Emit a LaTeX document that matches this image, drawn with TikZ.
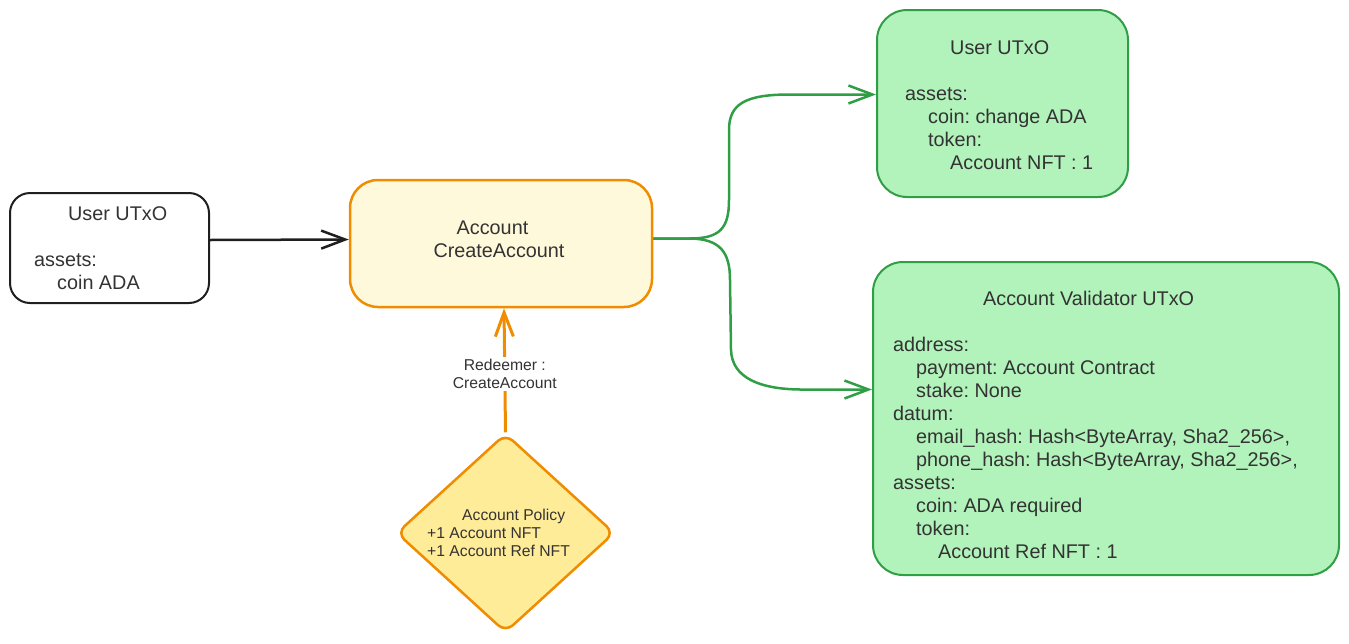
\documentclass[tikz,border=0pt]{standalone}
\usepackage{fontspec}
\setmainfont{Liberation Sans}
\usetikzlibrary{arrows.meta,shapes.geometric}
\definecolor{txt}{HTML}{333333}
\definecolor{orng}{HTML}{F08C00}
\definecolor{yel}{HTML}{FFF9DB}
\definecolor{dia}{HTML}{FFEC99}
\definecolor{grn}{HTML}{2F9E44}
\definecolor{grnf}{HTML}{B2F2BB}
\begin{document}
\frenchspacing
\begin{tikzpicture}[x=1pt,y=-1pt,
 box/.style={draw, line width=2pt, rounded corners=24pt, inner sep=0pt},
 utxo/.style={box, draw=grn, fill=grnf, rounded corners=30pt},
 body/.style={text=txt, font=\fontsize{19.8}{23}\selectfont, align=left, inner sep=0pt, anchor=west},
 midtext/.style={text=txt, font=\fontsize{19.8}{23}\selectfont, align=center, inner sep=0pt},
 small/.style={text=txt, font=\fontsize{15.7}{18}\selectfont, inner sep=2pt},
 barb/.style={-{Straight Barb[length=24pt,width=18pt]}},
]
\useasboundingbox (0,0) rectangle (1349,643);
% boxes
\node[box, draw=black!88, fill=white, rounded corners=20pt, minimum width=199pt, minimum height=110pt] (u) at (109.5,248) {};
\node[box, draw=orng, fill=yel, line width=2.5pt, rounded corners=28pt, minimum width=302pt, minimum height=127pt] (m) at (501,243.5) {};
\node[utxo, minimum width=251pt, minimum height=187pt] (t) at (1002.5,103.5) {};
\node[utxo, minimum width=466pt, minimum height=313pt] (b) at (1106,418.5) {};
\node[diamond, draw=orng, fill=dia, line width=2.5pt, rounded corners=10pt, minimum width=218pt, minimum height=199pt, inner sep=0pt] (d) at (505.5,533) {};
% texts
\node[body] (ut) at (34,248.5) {\hspace*{34pt}User UTxO\\[23pt]assets:\\\hspace*{23pt}coin ADA};
\node[midtext] (mt) at (499,239.5) {Account\hspace*{13pt}\\CreateAccount};
\node[body] (tt) at (905,105.5) {\hspace*{45pt}User UTxO\\[23pt]assets:\\\hspace*{23pt}coin: change ADA\\\hspace*{23pt}token:\\\hspace*{45pt}Account NFT : 1};
\node[body] (bt) at (893,425) {\hspace*{90pt}Account Validator UTxO\\[23pt]address:\\\hspace*{23pt}payment: Account Contract\\\hspace*{23pt}stake: None\\datum:\\\hspace*{23pt}email\_hash: Hash<ByteArray, Sha2\_256>,\\\hspace*{23pt}phone\_hash: Hash<ByteArray, Sha2\_256>,\\assets:\\\hspace*{23pt}coin: ADA required\\\hspace*{23pt}token:\\\hspace*{45pt}Account Ref NFT : 1};
\node[small, align=left, anchor=west, inner sep=0pt] (dt) at (427,533) {\hspace*{35pt}Account Policy\\+1 Account NFT\\+1 Account Ref NFT};
% connectors
\draw[black!88, line width=2.5pt, barb] ([yshift=8pt]u.east) -- ([yshift=4pt]m.west);
\draw[grn, line width=2.5pt, barb] ([yshift=5pt]m.east) -- (690,238.5) .. controls (720,238.5) and (729,228) .. (729,200) -- (729,130) .. controls (729,104) and (745,94.5) .. (790,94.5) -- ([yshift=9pt]t.west);
\draw[grn, line width=2.5pt, barb] ([yshift=5pt]m.east) -- (690,238.5) .. controls (720,239) and (730,252) .. (730,280) -- (731,350) .. controls (732,378) and (760,389) .. (800,389.5) -- ([yshift=29pt]b.west);
\draw[orng, line width=3pt, barb] (d.north) -- node[small, fill=white, align=center, pos=0.47] (lbl) {Redeemer :\\CreateAccount} ([xshift=3pt]m.south);
\end{tikzpicture}
\end{document}
